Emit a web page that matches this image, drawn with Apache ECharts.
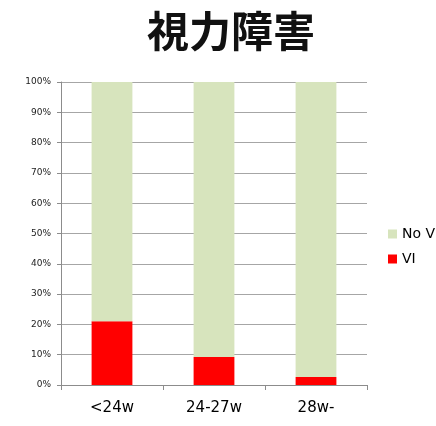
<!DOCTYPE html>
<html><head><meta charset="utf-8">
<script src="https://cdn.jsdelivr.net/npm/echarts@6/dist/echarts.min.js"></script>
<style>html,body{margin:0;padding:0;background:#fff;}#c{width:436px;height:426px;}</style>
</head><body><div id="c"></div>
<script>
var categories = ['<24w', '24-27w', '28w-'];
var viValues = [21, 9.2, 2.6];
var noViValues = [79, 90.8, 97.4];
var yTicks = [0, 10, 20, 30, 40, 50, 60, 70, 80, 90, 100];

var chart = echarts.init(document.getElementById('c'));
chart.setOption({
  animation: false,
  title: {
    text: '視力障害', left: 231, top: 10, textAlign: 'center', padding: 0,
    textStyle: {fontSize: 42, fontWeight: 'bold', color: '#111', fontFamily: 'Noto Sans CJK JP'}
  },
  legend: {
    orient: 'vertical', left: 388, top: 227, padding: 0, itemWidth: 9, itemHeight: 9, itemGap: 11,
    icon: 'rect',
    data: ['No VI', 'VI'],
    textStyle: {fontSize: 14, color: '#000', fontFamily: 'DejaVu Sans'}
  },
  grid: {left: 61, right: 69, top: 82, bottom: 41},
  xAxis: {
    type: 'category', data: categories,
    axisLine: {lineStyle: {color: '#8c8c8c'}},
    axisTick: {show: true, length: 5, lineStyle: {color: '#8c8c8c'}},
    axisLabel: {fontSize: 15, color: '#000', margin: 16, fontFamily: 'DejaVu Sans'}
  },
  yAxis: {
    type: 'value', min: 0, max: 100, interval: 10,
    axisLine: {show: true, lineStyle: {color: '#8c8c8c'}},
    axisTick: {show: true, length: 4, lineStyle: {color: '#8c8c8c'}},
    splitLine: {lineStyle: {color: '#a6a6a6'}},
    axisLabel: {fontSize: 9, color: '#222', margin: 10, fontFamily: 'DejaVu Sans',
      formatter: function (v) { return yTicks.indexOf(v) >= 0 ? v + '%' : ''; }}
  },
  series: [
    {name: 'VI', type: 'bar', stack: 's', data: viValues, barWidth: '40%',
     itemStyle: {color: '#ff0000'}},
    {name: 'No VI', type: 'bar', stack: 's', data: noViValues, barWidth: '40%',
     itemStyle: {color: '#d7e4bd'}}
  ]
});
</script></body></html>
